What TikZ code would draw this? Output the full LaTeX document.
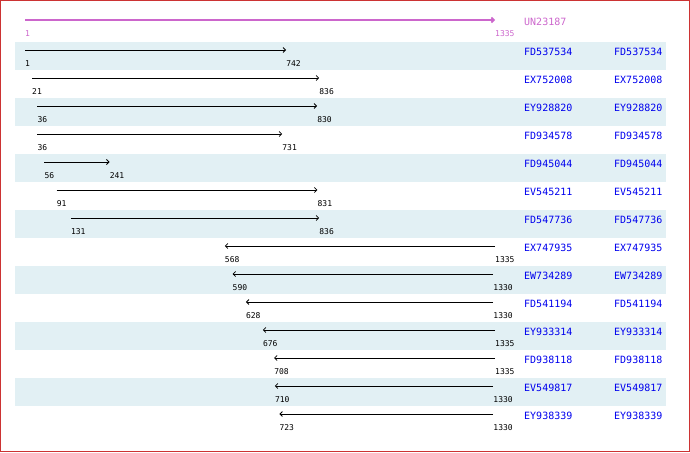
\documentclass[tikz,border=0pt]{standalone}
\usepackage{fontspec}
\usepackage{xcolor}
\usetikzlibrary{arrows.meta}
\newfontfamily\estfont{DejaVu Sans Mono}

\definecolor{bandblue}{HTML}{E2F0F4}
\definecolor{rulermag}{HTML}{CC66CC}
\definecolor{namblue}{HTML}{0000EE}
\definecolor{framered}{HTML}{CC3333}

\begin{document}
\begin{tikzpicture}[x=1pt,y=-1pt]

\tikzstyle{band} = [fill=bandblue, draw=none]
\tikzstyle{estarrow} = [line width=0.8pt, -{Straight Barb[length=2.5pt,width=5pt]}]
\tikzstyle{refarrow} = [line width=1.6pt, rulermag, -{Straight Barb[length=2.5pt,width=5pt]}]
\tikzstyle{poslabel} = [anchor=west, inner sep=0pt, font=\estfont\fontsize{8}{9}\selectfont]
\tikzstyle{estname} = [anchor=west, inner sep=0pt, text=namblue, font=\estfont\fontsize{10}{11}\selectfont]

\useasboundingbox (0,0) rectangle (690,452);
\draw [framered, line width=1pt] (0.5,0.5) rectangle (689.5,451.5);

% shaded rows
\foreach \i in {0,2,...,12}
  \fill [band] (15,42+28*\i) rectangle (666,70+28*\i);

% reference sequence
\coordinate (rs) at (25,20);
\coordinate (re) at (495,20);
\draw [refarrow] (rs) -- (re);
\node (rsl) [poslabel, text=rulermag] at (25,34) {1};
\node (rel) [poslabel, text=rulermag] at (495,34) {1335};
\node (ref) [estname, text=rulermag] at (524,22) {UN23187};

% ests: row/start/end/name (start > end means reverse)
\foreach \i/\s/\e/\n/\d in {
  1/1/742/FD537534/f,
  2/21/836/EX752008/f,
  3/36/830/EY928820/f,
  4/36/731/FD934578/f,
  5/56/241/FD945044/f,
  6/91/831/EV545211/f,
  7/131/836/FD547736/f,
  8/568/1335/EX747935/r,
  9/590/1330/EW734289/r,
  10/628/1330/FD541194/r,
  11/676/1335/EY933314/r,
  12/708/1335/FD938118/r,
  13/710/1330/EV549817/r,
  14/723/1330/EY938339/r}{
  \pgfmathsetmacro{\xs}{25+(\s-1)*0.352324}
  \pgfmathsetmacro{\xe}{25+(\e-1)*0.352324}
  \pgfmathsetmacro{\yy}{22+28*\i}
  \coordinate (s\i) at (\xs,\yy);
  \coordinate (e\i) at (\xe,\yy);
  \if\d f
    \draw [estarrow] (s\i) -- (e\i);
  \else
    \draw [estarrow] (e\i) -- (s\i);
  \fi
  \node (sl\i) [poslabel] at (\xs,\yy+14) {\s};
  \node (el\i) [poslabel] at (\xe,\yy+14) {\e};
  \node (na\i) [estname] at (524,\yy+2) {\n};
  \node (nb\i) [estname] at (614,\yy+2) {\n};
}

\end{tikzpicture}
\end{document}
